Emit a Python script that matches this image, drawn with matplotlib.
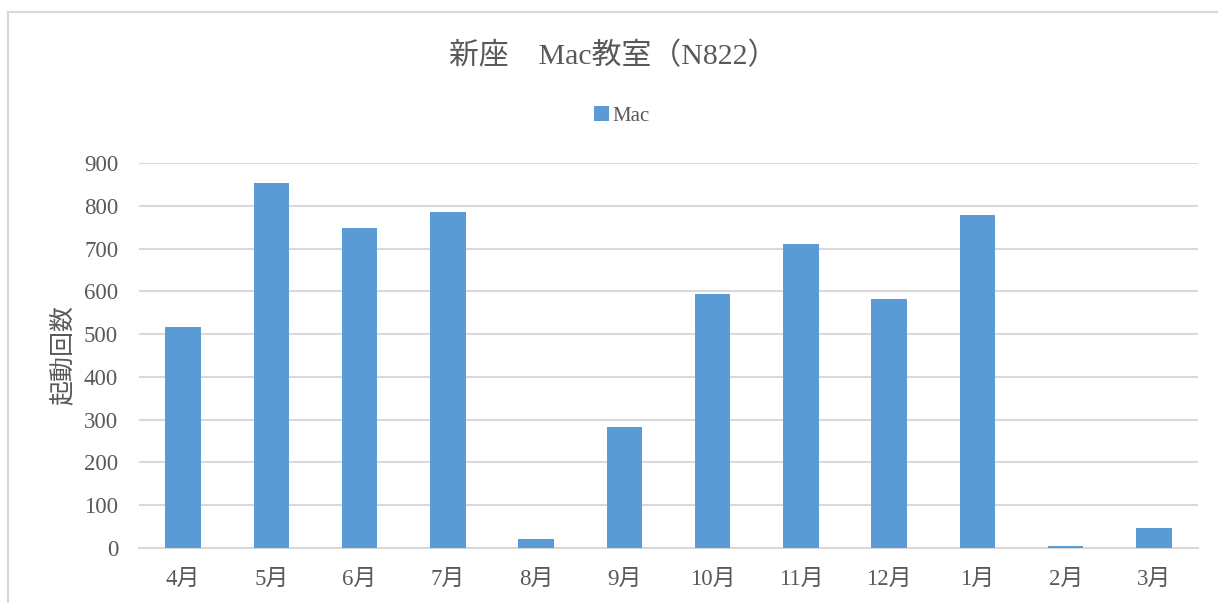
import matplotlib
matplotlib.use("Agg")
import matplotlib.pyplot as plt
from matplotlib.lines import Line2D

plt.rcParams['font.family'] = ['Liberation Serif', 'Noto Sans CJK JP']

# data
months = ['4月', '5月', '6月', '7月', '8月', '9月', '10月', '11月', '12月', '1月', '2月', '3月']
counts = [516, 853, 748, 785, 21, 283, 594, 711, 582, 778, 4, 47]
yticks = [0, 100, 200, 300, 400, 500, 600, 700, 800, 900]

bar_color = '#5B9BD5'
grid_color = '#D9D9D9'
text_color = '#595959'

fig = plt.figure(figsize=(12.18, 6.03), dpi=100)
ax = fig.add_axes([0.1141, 0.0912, 0.8695, 0.6385])

x = range(len(months))
ax.bar(x, counts, width=0.4, color=bar_color, label='Mac', zorder=3)

ax.set_xlim(-0.5, len(months) - 0.5)
ax.set_ylim(0, 900)
ax.set_yticks(yticks)
ax.set_xticks(list(x))
ax.set_xticklabels(months)
ax.yaxis.grid(True, color=grid_color, linewidth=1.5, zorder=0)
ax.set_axisbelow(True)

for s in ['top', 'right', 'left']:
    ax.spines[s].set_visible(False)
ax.spines['bottom'].set_color(grid_color)
ax.spines['bottom'].set_linewidth(1.5)

ax.tick_params(axis='y', length=0, pad=15, labelsize=16.5, labelcolor=text_color)
ax.tick_params(axis='x', length=0, pad=15, labelsize=16.5, labelcolor=text_color)

ax.set_ylabel('起動回数', fontsize=18, color=text_color)
ax.yaxis.set_label_coords(-0.061, 0.5)

fig.text(613 / 1218, 1 - 56 / 603, '新座\u3000Mac教室（N822）', ha='center', va='center',
         fontsize=21.5, color=text_color)

ax.legend(loc='center', bbox_to_anchor=(622 / 1218, 1 - 116 / 603), bbox_transform=fig.transFigure,
          frameon=False, fontsize=15, handlelength=0.7, handleheight=0.7, handletextpad=0.2,
          labelcolor=text_color)

# chart area border (cropped on right and bottom)
fig.add_artist(Line2D([7.5 / 1218, 7.5 / 1218], [0, 1 - 12 / 603], transform=fig.transFigure,
                      color=grid_color, linewidth=1.5))
fig.add_artist(Line2D([7.5 / 1218, 1], [1 - 12 / 603, 1 - 12 / 603], transform=fig.transFigure,
                      color=grid_color, linewidth=1.5))

plt.savefig('out.png', dpi=100)
